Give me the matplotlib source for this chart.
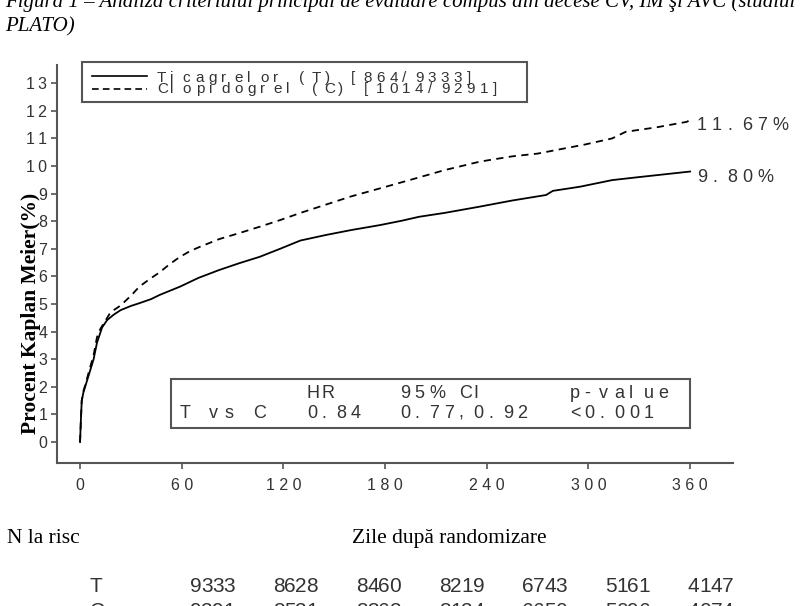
import matplotlib
matplotlib.use('Agg')
import matplotlib.pyplot as plt
from matplotlib.patches import Rectangle

# Curba Kaplan-Meier (zile, procent)
zile_t = [0, 0.5, 1, 2, 3, 5, 8, 10, 13, 16, 20, 24, 30, 35, 42, 47, 53, 59, 70, 82, 94,
          106, 118, 130, 145, 160, 177, 190, 200, 215, 236, 255, 275, 279, 295, 314, 330, 345, 360]
proc_t = [0, 0.8, 1.5, 1.8, 2.0, 2.4, 3.0, 3.6, 4.15, 4.42, 4.62, 4.78, 4.93, 5.03, 5.18, 5.33, 5.48, 5.63, 5.95, 6.23, 6.48,
          6.71, 7.0, 7.3, 7.5, 7.68, 7.86, 8.02, 8.16, 8.3, 8.53, 8.75, 8.95, 9.1, 9.25, 9.49, 9.6, 9.7, 9.8]

zile_c = [0, 0.5, 1, 2, 3, 5, 8, 10, 12, 15, 18, 24, 30, 35, 41, 47, 53, 59, 65, 71, 82, 94,
          106, 118, 130, 145, 160, 177, 195, 215, 236, 255, 270, 281, 298, 314, 322, 340, 358, 360]
proc_c = [0, 0.8, 1.5, 1.85, 2.05, 2.5, 3.15, 3.8, 4.1, 4.4, 4.7, 4.95, 5.3, 5.63, 5.9, 6.15, 6.45, 6.71, 6.92, 7.08, 7.35, 7.57,
          7.8, 8.04, 8.3, 8.6, 8.9, 9.19, 9.5, 9.85, 10.16, 10.35, 10.45, 10.58, 10.78, 11.0, 11.24, 11.4, 11.6, 11.67]

legenda = ['Ticagrelor (T) [864/9333]', 'Clopidogrel (C) [1014/9291]']
final_t = '9.80%'
final_c = '11.67%'
statistici = [['', 'HR', '95% CI', 'p-value'],
              ['T vs C', '0.84', '0.77,0.92', '<0.001']]

xticks = [0, 60, 120, 180, 240, 300, 360]
yticks = list(range(0, 14))

grupuri = ['T', 'C']
risc_t = [9333, 8628, 8460, 8219, 6743, 5161, 4147]
risc_c = [9291, 8521, 8362, 8124, 6650, 5096, 4074]

titlu1 = 'Figura 1 \u2013 Analiza criteriului principal de evaluare compus din decese CV, IM \u015fi AVC (studiul'
titlu2 = 'PLATO)'

SANS = ['Liberation Sans', 'DejaVu Sans']
SERIF = ['Liberation Serif', 'DejaVu Serif']
GRI = '#333333'

fig = plt.figure(figsize=(8.12, 6.06), dpi=100)

# axa principala (pozitii in pixeli convertite in fractii)
W, H = 812, 606
x0, x1, ysus, yjos = 57, 733, 65, 463
ax = fig.add_axes([x0 / W, 1 - yjos / H, (x1 - x0) / W, (yjos - ysus) / H])

ax.plot(zile_t, proc_t, color='black', lw=1.3)
ax.plot(zile_c, proc_c, color='black', lw=1.3, linestyle=(0, (4, 3)))

ax.set_xlim(-13.6, 385.3)
ax.set_ylim(-0.76, 13.66)
ax.set_xticks(xticks)
ax.set_xticklabels([' '.join(str(v)) for v in xticks], fontfamily=SANS, fontsize=11.5, color=GRI)
ax.set_yticks(yticks)
ax.set_yticklabels(['\u2009'.join(str(v)) for v in yticks], fontfamily=SANS, fontsize=11.5, color=GRI)
ax.tick_params(axis='both', direction='out', length=4, width=1.2, color='#555555')
ax.tick_params(axis='x', pad=7)
ax.tick_params(axis='y', pad=3)
for s in ['top', 'right']:
    ax.spines[s].set_visible(False)
for s in ['left', 'bottom']:
    ax.spines[s].set_color('#555555')
    ax.spines[s].set_linewidth(1.5)

ax.set_ylabel('Procent Kaplan Meier(%)', fontfamily=SERIF, fontweight='bold', fontsize=15.5, color='black')
ax.yaxis.set_label_coords((41 - x0) / (x1 - x0), (yjos - 313) / (yjos - ysus))

# strat pentru texte in pixeli
ov = fig.add_axes([0, 0, 1, 1], zorder=5)
ov.set_xlim(0, W)
ov.set_ylim(H, 0)
ov.axis('off')


def text_grila(x, y, s, pas, marime, fam=SANS):
    # fiecare caracter in celula lui, ca in iesirea SAS
    for i, ch in enumerate(s):
        if ch != ' ':
            ov.text(x + i * pas, y, ch, fontsize=marime, fontfamily=fam, color=GRI,
                    ha='left', va='baseline')


# legenda
ov.add_patch(Rectangle((82, 62), 445, 40, fill=False, edgecolor='#555555', lw=1.5))
ov.plot([92, 147], [76, 76], color='black', lw=1.2)
ov.plot([92, 147], [89, 89], color='black', lw=1.2, linestyle=(0, (4, 2.5)))
text_grila(157, 82, legenda[0], 12.9, 11)
text_grila(157, 93, legenda[1], 12.9, 11)

# valori finale
text_grila(697, 130, final_c, 15, 13)
text_grila(697, 182, final_t, 15, 13)

# caseta cu statistici
ov.add_patch(Rectangle((171, 379), 519, 49, fill=False, edgecolor='#555555', lw=1.5))
col_x = [180, 307, 400, 570]
for rand, yb in zip(statistici, [398, 418]):
    for cx, s in zip(col_x, rand):
        text_grila(cx, yb, s, 14.7, 13)

# titlu (taiat sus)
ov.text(5, 7, titlu1, fontsize=15, fontfamily=SERIF, style='italic', color='black', va='baseline')
ov.text(5, 31, titlu2, fontsize=15, fontfamily=SERIF, style='italic', color='black', va='baseline')

ov.text(7, 543, 'N la risc', fontsize=15.5, fontfamily=SERIF, color='black', va='baseline')
ov.text(352, 543, 'Zile dup\u0103 randomizare', fontsize=15.5, fontfamily=SERIF, color='black', va='baseline')

# numar la risc
for g, valori, yb in zip(grupuri, [risc_t, risc_c], [592, 617]):
    text_grila(90, yb, g, 11.2, 15)
    for i, v in enumerate(valori):
        text_grila(190 + i * 83, yb, str(v), 11.2, 15)

fig.savefig('out.png', dpi=100)
